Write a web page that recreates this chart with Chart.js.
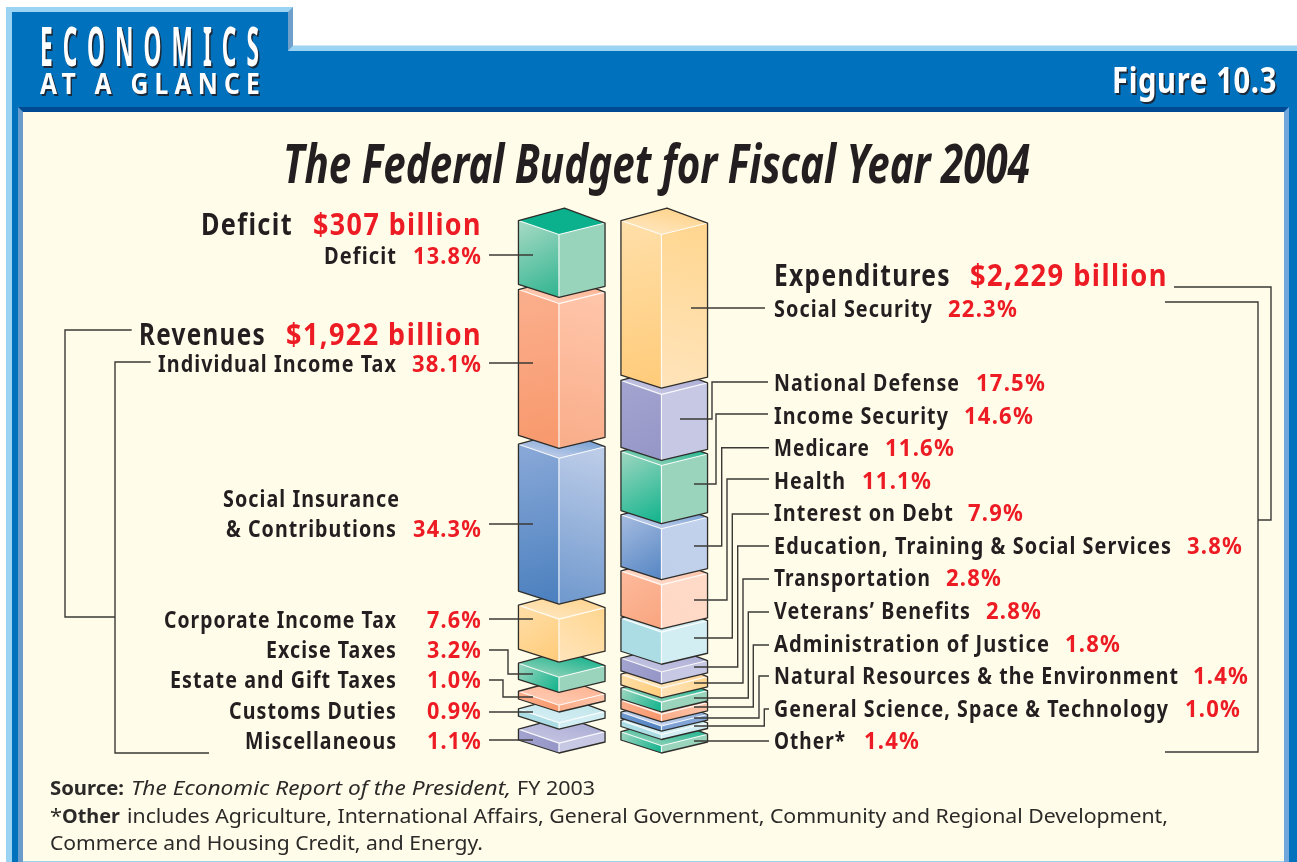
<!DOCTYPE html>
<html><head><meta charset="utf-8"><title>The Federal Budget for Fiscal Year 2004</title>
<style>html,body{margin:0;padding:0;background:#fff}#wrap{position:absolute;left:0;top:0;width:1297px;height:862px}</style>
<script src="https://cdn.jsdelivr.net/npm/chart.js@4"></script></head>
<body><div id="wrap"><canvas id="c" width="1297" height="862"></canvas></div>
<script>
// ---- printed labels and percentages ----
const revenueNames = ["Deficit","Individual Income Tax","Social Insurance & Contributions","Corporate Income Tax","Excise Taxes","Estate and Gift Taxes","Customs Duties","Miscellaneous"];
const revenuePct = [13.8,38.1,34.3,7.6,3.2,1.0,0.9,1.1];
const expenditureNames = ["Social Security","National Defense","Income Security","Medicare","Health","Interest on Debt","Education, Training & Social Services","Transportation","Veterans\u2019 Benefits","Administration of Justice","Natural Resources & the Environment","General Science, Space & Technology","Other*"];
const expenditurePct = [22.3,17.5,14.6,11.6,11.1,7.9,3.8,2.8,2.8,1.8,1.4,1.0,1.4];
const columns = ["Revenues","Expenditures"];
// ---- apparent block sizes in % of the column height.
// The reference's blocks are illustrative and are not proportional to the printed percentages.
const revenueBlocks = [12.1,27.9,28.1,8.3,2.9,1.3,1.2,1.9];
const expenditureBlocks = [29.6,12.7,11.2,9.8,8.5,6.2,2.3,1.9,1.9,1.5,1.0,1.0,1.4];

// ---- drawing configuration ----
const revenueSpacing = [1.2,1.9,2.9,2.9,2.5,2.1,2.7];
const expenditureSpacing = [1.2,1.0,1.0,1.0,0.6,1.5,0.8,0.8,0.4,0.8,0.6,1.2];
const families = {
  deficit:{top:['#0bb08c','#0bb08c'],left:['#a8dac5','#2fb48f'],right:['#98d3bc','#98d3bc']},
  green:{top:['#14b28c','#86cfb4'],left:['#9fd6c0','#0fb38c'],right:['#9ad4bd','#9ad4bd']},
  orange:{top:['#fdb291','#ffcab2'],left:['#fbaf8d','#f8986c'],right:['#ffc6ab','#f9ad89']},
  blueDeep:{top:['#6e9bd0','#bccbe8'],left:['#8aa9d8','#4a7fbe'],right:['#bfcee9','#6f98cd']},
  blue:{top:['#6e9bd0','#bccbe8'],left:['#a6bce0','#5485c3'],right:['#c3d2ec','#c0cfea']},
  blueThin:{top:['#7ea4d6','#c8d5ee'],left:['#6f98cf','#4f82c1'],right:['#86a8d9','#7da1d5']},
  yellow:{top:['#ffd48f','#ffe5ba'],left:['#ffdfa9','#ffcb79'],right:['#ffd68f','#ffe4bb']},
  lav:{top:['#a9aad3','#c3c4e2'],left:['#a3a4cf','#9596c7'],right:['#c6c8e4','#c6c8e4']},
  aqua:{top:['#bfe5ea','#d3eef3'],left:['#acdde4','#acdde4'],right:['#d3eef3','#d3eef3']},
  peach:{top:['#ffc0a4','#ffd8c6'],left:['#fdbb9c','#f9a47e'],right:['#ffdac8','#ffd9c6']}
};
const revenueColors = ['deficit','orange','blueDeep','yellow','green','orange','aqua','lav'];
const expenditureColors = ['yellow','lav','green','blue','peach','aqua','lav','yellow','green','orange','blueThin','aqua','green'];

// floating stack built from the block sizes: first block on top, axis 0 at the column foot
function stack(blocks, spacing){
  let hi = blocks.reduce((a,b)=>a+b,0) + spacing.reduce((a,b)=>a+b,0);
  return blocks.map((b,i)=>{ const r=[hi-b,hi]; hi -= b + (spacing[i]||0); return r; });
}
const datasets = [];
stack(revenueBlocks,revenueSpacing).forEach((r,i)=>datasets.push({label:revenueNames[i],data:[r,null],backgroundColor:families[revenueColors[i]].right[0],family:revenueColors[i]}));
stack(expenditureBlocks,expenditureSpacing).forEach((r,i)=>datasets.push({label:expenditureNames[i],data:[null,r],backgroundColor:families[expenditureColors[i]].right[0],family:expenditureColors[i]}));

const INK='#231f20', RED='#ed1c24', LINE='#3b3a36';
function T(ctx,str,x,base,o){
  ctx.save();
  ctx.font=o.font; ctx.fillStyle=o.color||INK; ctx.textBaseline='alphabetic'; ctx.textAlign='left';
  if(o.ls) ctx.letterSpacing=o.ls+'px';
  if(o.shadow){ctx.shadowColor=o.shadow;ctx.shadowOffsetX=1.5;ctx.shadowOffsetY=1.5;ctx.shadowBlur=0.5;}
  const m=ctx.measureText(str).width, sx=o.w?o.w/m:1;
  ctx.translate(x,base); ctx.scale(sx,1); ctx.fillText(str,0,0);
  ctx.restore();
}
function poly(ctx,pts,fill){ctx.beginPath();pts.forEach((p,i)=>i?ctx.lineTo(p[0],p[1]):ctx.moveTo(p[0],p[1]));ctx.closePath();ctx.fillStyle=fill;ctx.fill();}
function frame(ctx){
  ctx.fillStyle='#fff';ctx.fillRect(0,0,1297,862);
  poly(ctx,[[6,7],[293,7],[293,45.5],[1297,45.5],[1297,862],[6,862]],'#9bd3f2');
  poly(ctx,[[12,12],[288,12],[288,51],[1297,51],[1297,862],[12,862]],'#0071bc');
  poly(ctx,[[288,12],[293,7],[293,45.5],[288,51]],'#6f9fcb');
  poly(ctx,[[18,107],[1289,107],[1284,112],[23,112]],'#004a93');
  poly(ctx,[[18,107],[23,112],[23,862],[18,862]],'#6a9bcb');
  poly(ctx,[[1289,107],[1284,112],[1284,862],[1289,862]],'#70a8dd');
  poly(ctx,[[23,112],[1284,112],[1284,861],[23,861]],'#fffce9');
  poly(ctx,[[23,861],[1284,861],[1284,862],[23,862]],'#9bd3f2');
}
function grad(ctx,x0,y0,x1,y1,c){const g=ctx.createLinearGradient(x0,y0,x1,y1);g.addColorStop(0,c[0]);g.addColorStop(1,c[1]);return g;}
function cuboid(ctx,el,fam){
  const c=el.x,w=el.width,t=el.y,b=el.base,l=c-w/2,r=c+w/2,fx=c-2.8,ax=fx+5.5;
  const LT=[l,t-14],RT=[r,t-11.5],FT=[fx,t],FB=[fx,b],LB=[l,b-13],RB=[r,b-11],A=[ax,t-26.5];
  poly(ctx,[A,RT,FT,LT],grad(ctx,ax,t-26.5,fx,t,fam.top));
  poly(ctx,[LT,FT,FB,LB],grad(ctx,l,t-14,fx,b,fam.left));
  poly(ctx,[FT,RT,RB,FB],grad(ctx,r,t-11.5,fx,b,fam.right));
  ctx.save();ctx.lineJoin='round';
  ctx.strokeStyle='rgba(255,255,255,.85)';ctx.lineWidth=1.2;
  ctx.beginPath();ctx.moveTo(LT[0],LT[1]);ctx.lineTo(FT[0],FT[1]);ctx.lineTo(RT[0],RT[1]);ctx.moveTo(FT[0],FT[1]);ctx.lineTo(FB[0],FB[1]);ctx.stroke();
  ctx.strokeStyle='#2e2d2a';ctx.lineWidth=1.3;
  ctx.beginPath();[A,RT,RB,FB,LB,LT].forEach((p,i)=>i?ctx.lineTo(p[0],p[1]):ctx.moveTo(p[0],p[1]));ctx.closePath();ctx.stroke();
  ctx.restore();
}
const leaders=[
 [[489,255],[533,255]],[[489,363],[533,363]],[[489,524],[533,524]],[[489,619],[533,619]],
 [[489,650],[508,650],[508,674],[533,674]],[[489,680],[503,680],[503,697],[533,697]],
 [[489,712],[533,712]],[[489,740],[533,740]],
 [[131.7,330],[65,330],[65,617],[115,617]],[[150.7,362],[115,362],[115,753],[209,753]],
 [[1174,287],[1271,287],[1271,520],[1258,520]],[[1165,302],[1258,302],[1258,752],[1165,752]],
 [[691,308],[765,308]],
 [[680,419],[712,419],[712,382],[768,382]],
 [[694,484],[716,484],[716,414],[768,414]],
 [[694,546],[721.7,546],[721.7,447.7],[769,447.7]],
 [[694,600],[727,600],[727,479],[769,479]],
 [[694,638],[732.3,638],[732.3,514],[769,514]],
 [[694,667],[737.7,667],[737.7,546],[769,546]],
 [[694,683],[743,683],[743,579],[769,579]],
 [[694,698],[748.3,698],[748.3,612],[769,612]],
 [[694,707],[753.3,707],[753.3,645],[769,645]],
 [[694,718],[759,718],[759,676],[769,676]],
 [[694,726],[764.3,726],[764.3,709],[769,709]],
 [[694,741],[769,741]]
];
// label layout: [name left, name right, pct left, centre y]
const leftRows=[[324,396,413,256],[158,396,412,364],[226,396,413,529],[164,396,427,620],[266,396,427,650],[170,396,427,680],[229,396,427,711],[245,396,427,741]];
const rightRows=[[774,932,948,309],[774,959,976,383],[774,948,964,416],[774,869,885,448],[774,845,862,481],[774,953,968,513],[774,1171,1187,546],[774,930,946,578],[774,970,986,611],[774,1049,1065,644],[774,1178,1193,676],[774,1168,1185,709],[774,845,864,741]];
const LAB='700 24px "Noto Sans"', BIG='700 30px "Noto Sans"', LS=1.3, BS=1.6;
function pctStr(v){return v.toFixed(1)+'%';}
function labels(ctx){
  T(ctx,"ECONOMICS",40,66,{font:'700 54px "Noto Sans"',color:'#fff',ls:24,w:229,shadow:'#1b2a3a'});
  T(ctx,"AT A GLANCE",40,94,{font:'700 28px "Noto Sans"',color:'#fff',ls:7,w:226,shadow:'#1b2a3a'});
  T(ctx,"Figure 10.3",1112,93,{font:'700 36px "Noto Sans"',color:'#fff',ls:0.8,w:165,shadow:'#1b2a3a'});
  T(ctx,"The Federal Budget for Fiscal Year 2004",283,183,{font:'italic 700 53px "Noto Sans"',w:747});
  T(ctx,"Deficit",201,235,{font:BIG,ls:BS,w:92}); T(ctx,"$307 billion",313,235,{font:BIG,ls:BS,color:RED,w:169});
  T(ctx,"Revenues",139,345,{font:BIG,ls:BS,w:127}); T(ctx,"$1,922 billion",286,345,{font:BIG,ls:BS,color:RED,w:196});
  T(ctx,"Expenditures",774,286,{font:BIG,ls:BS,w:177}); T(ctx,"$2,229 billion",970,286,{font:BIG,ls:BS,color:RED,w:198});
  T(ctx,"Social Insurance",223,507,{font:LAB,ls:LS,w:177});
  revenueNames.forEach((n,i)=>{const r=leftRows[i];
    T(ctx,i===2?"& Contributions":n,r[0],r[3]+8,{font:LAB,ls:LS,w:r[1]-r[0]+1});
    T(ctx,pctStr(revenuePct[i]),r[2],r[3]+8,{font:LAB,ls:LS,color:RED,w:482-r[2]});});
  expenditureNames.forEach((n,i)=>{const r=rightRows[i];
    T(ctx,n,r[0],r[3]+8,{font:LAB,ls:LS,w:r[1]-r[0]+1});
    const s=pctStr(expenditurePct[i]);
    T(ctx,s,r[2],r[3]+8,{font:LAB,ls:LS,color:RED,w:(s.length===5?70:56)});});
  const R='400 19.5px "Noto Sans"',B='700 19.5px "Noto Sans"',I='italic 400 19.5px "Noto Sans"',F='#2b2a28';
  T(ctx,"Source:",50,795,{font:B,color:F,w:74});
  T(ctx,"The Economic Report of the President,",131,795,{font:I,color:F,w:380});
  T(ctx,"FY 2003",517,795,{font:R,color:F,w:78});
  T(ctx,"*",50,823,{font:R,color:F,w:12});
  T(ctx,"Other",62,823,{font:B,color:F,w:58});
  T(ctx,"includes Agriculture, International Affairs, General Government, Community and Regional Development,",127,823,{font:R,color:F,w:1041});
  T(ctx,"Commerce and Housing Credit, and Energy.",50,850,{font:R,color:F,w:433});
}
const overlay={
  id:'overlay',
  beforeDraw(chart){frame(chart.ctx);},
  beforeDatasetDraw(chart,args){
    const ds=chart.data.datasets[args.index];
    args.meta.data.forEach((el,i)=>{ if(ds.data[i]) cuboid(chart.ctx,el,families[ds.family]); });
    return false;
  },
  afterDatasetsDraw(chart){
    const ctx=chart.ctx; ctx.save();ctx.strokeStyle=LINE;ctx.lineWidth=1.4;
    leaders.forEach(p=>{ctx.beginPath();p.forEach((q,i)=>i?ctx.lineTo(q[0],q[1]):ctx.moveTo(q[0],q[1]));ctx.stroke();});
    ctx.restore();
  },
  afterDraw(chart){labels(chart.ctx);}
};
new Chart(document.getElementById('c'),{
  type:'bar',
  data:{labels:columns,datasets},
  plugins:[overlay],
  options:{
    responsive:false,animation:false,
    layout:{padding:{left:510.5,right:581.5,top:234,bottom:109}},
    datasets:{bar:{grouped:false,barThickness:86.6}},
    plugins:{legend:{display:false},title:{display:false},tooltip:{enabled:false}},
    scales:{
      x:{display:false,offset:true,grid:{display:false}},
      y:{display:false,min:0,max:100,grid:{display:false}}
    }
  }
});
</script></body></html>
